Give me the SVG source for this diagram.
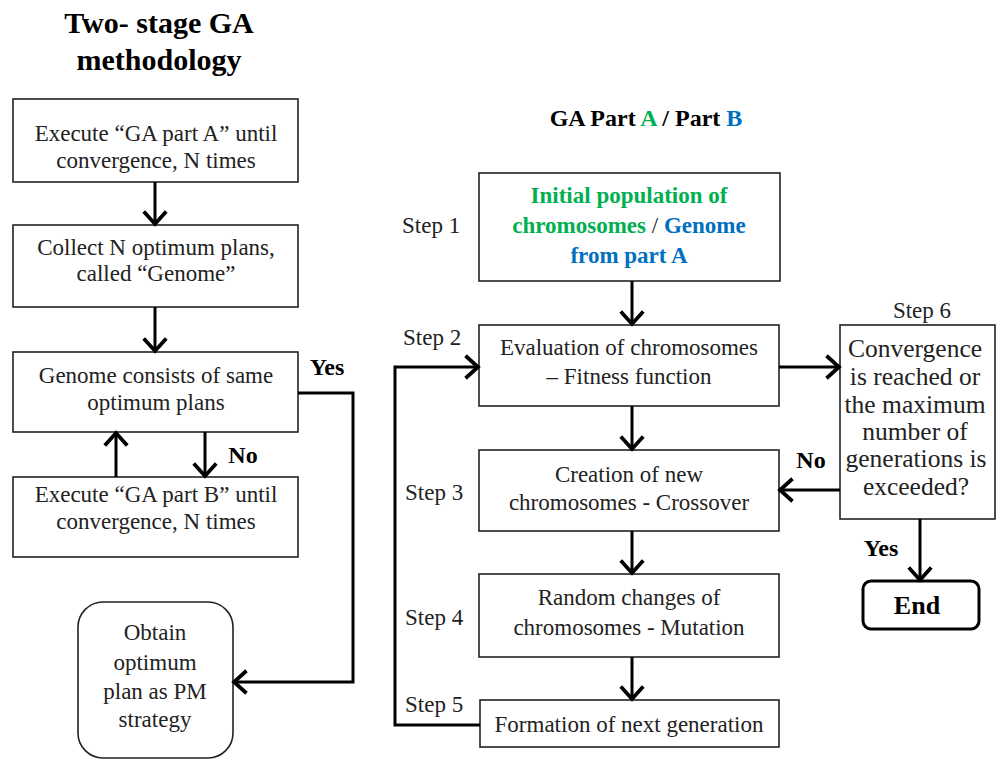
<svg xmlns="http://www.w3.org/2000/svg" width="996" height="760" viewBox="0 0 996 760">
<style>
text{font-family:'Liberation Serif','Tinos','Times New Roman','Noto Serif','DejaVu Serif',serif}
.bx{fill:#fff;stroke:#222;stroke-width:1.6}
.t{font-size:23px;fill:#222;text-anchor:middle}
.b{font-weight:bold;fill:#000}
.s{font-size:23px;fill:#222}
.q{font-size:25.5px}
.yn{font-size:24px}
.c{fill:none;stroke:#000;stroke-width:3;stroke-linejoin:miter}
.g{fill:#00b050}
.bl{fill:#0070c0}
</style>
<defs>
<marker id="ah" markerUnits="userSpaceOnUse" markerWidth="30" markerHeight="30" viewBox="-14 -12 16 24" refX="0" refY="0" orient="auto" overflow="visible">
<path d="M-10,-9 L0,0 L-10,9" fill="none" stroke="#000" stroke-width="3"/>
</marker>
</defs>
<rect width="996" height="760" fill="#fff"/>
<g id="title">
<text class="t b" x="159" y="33" style="font-size:30px">Two- stage GA</text>
<text class="t b" x="159" y="70" style="font-size:30px">methodology</text>
</g>
<g id="left1"><rect class="bx" x="13" y="99" width="285" height="83"/>
<text class="t" x="156" y="141">Execute “GA part A” until</text>
<text class="t" x="156" y="168">convergence, N times</text></g>
<g id="left2"><rect class="bx" x="13" y="225" width="285" height="82"/>
<text class="t" x="156" y="255">Collect N optimum plans,</text>
<text class="t" x="156" y="281">called “Genome”</text></g>
<g id="left3"><rect class="bx" x="13" y="352" width="285" height="80"/>
<text class="t" x="156" y="383">Genome consists of same</text>
<text class="t" x="156" y="410">optimum plans</text></g>
<g id="left4"><rect class="bx" x="13" y="477" width="285" height="80"/>
<text class="t" x="156" y="502">Execute “GA part B” until</text>
<text class="t" x="156" y="529">convergence, N times</text></g>
<g id="obtain"><rect class="bx" x="78" y="602" width="155" height="156" rx="25"/>
<text class="t" x="155" y="640">Obtain</text>
<text class="t" x="155" y="670">optimum</text>
<text class="t" x="155" y="699">plan as PM</text>
<text class="t" x="155" y="727">strategy</text></g>
<g id="gatitle"><text class="t b" x="646" y="126" style="font-size:24px">GA Part <tspan class="g">A</tspan> / Part <tspan class="bl">B</tspan></text></g>
<g id="step1"><rect class="bx" x="479" y="173" width="301" height="108"/>
<text class="s" x="402" y="233">Step 1</text>
<text class="t b g" x="629" y="203">Initial population of</text>
<text class="t" x="629" y="233"><tspan class="b g">chromosomes</tspan> / <tspan class="b bl">Genome</tspan></text>
<text class="t b bl" x="629" y="263">from part A</text></g>
<g id="step2"><rect class="bx" x="479" y="325" width="300" height="81"/>
<text class="s" x="403" y="345">Step 2</text>
<text class="t" x="629" y="355">Evaluation of chromosomes</text>
<text class="t" x="629" y="384">– Fitness function</text></g>
<g id="step3"><rect class="bx" x="479" y="450" width="300" height="81"/>
<text class="s" x="405" y="500">Step 3</text>
<text class="t" x="629" y="482">Creation of new</text>
<text class="t" x="629" y="510">chromosomes - Crossover</text></g>
<g id="step4"><rect class="bx" x="479" y="574" width="300" height="83"/>
<text class="s" x="405" y="625">Step 4</text>
<text class="t" x="629" y="605">Random changes of</text>
<text class="t" x="629" y="635">chromosomes - Mutation</text></g>
<g id="step5"><rect class="bx" x="480" y="700" width="299" height="47"/>
<text class="s" x="405" y="712">Step 5</text>
<text class="t" x="629" y="732">Formation of next generation</text></g>
<g id="step6"><rect class="bx" x="840" y="325" width="155" height="194"/>
<text class="t" x="922" y="318">Step 6</text>
<text class="t q" x="915" y="357">Convergence</text>
<text class="t q" x="915" y="385">is reached or</text>
<text class="t q" x="915" y="413">the maximum</text>
<text class="t q" x="915" y="440">number of</text>
<text class="t q" x="916" y="467">generations is</text>
<text class="t q" x="916" y="495">exceeded?</text></g>
<g id="end"><rect x="863" y="581" width="116" height="48" rx="8" fill="#fff" stroke="#000" stroke-width="3"/>
<text class="t b" x="917" y="614" style="font-size:26px">End</text></g>
<g id="connectors">
<line class="c" x1="155" y1="182" x2="155" y2="224" marker-end="url(#ah)"/>
<line class="c" x1="155" y1="307" x2="155" y2="351" marker-end="url(#ah)"/>
<line class="c" x1="205" y1="432" x2="205" y2="476" marker-end="url(#ah)"/>
<line class="c" x1="116" y1="477" x2="116" y2="433" marker-end="url(#ah)"/>
<polyline class="c" points="298,393 353,393 353,682 234,682" marker-end="url(#ah)"/>
<line class="c" x1="632" y1="281" x2="632" y2="324" marker-end="url(#ah)"/>
<line class="c" x1="632" y1="406" x2="632" y2="449" marker-end="url(#ah)"/>
<line class="c" x1="632" y1="531" x2="632" y2="573" marker-end="url(#ah)"/>
<line class="c" x1="632" y1="657" x2="632" y2="699" marker-end="url(#ah)"/>
<line class="c" x1="779" y1="367" x2="839" y2="367" marker-end="url(#ah)"/>
<line class="c" x1="840" y1="490" x2="780" y2="490" marker-end="url(#ah)"/>
<line class="c" x1="920" y1="519" x2="920" y2="580" marker-end="url(#ah)"/>
<polyline class="c" points="480,725 395,725 395,367 478,367" marker-end="url(#ah)"/>
<text class="t b yn" x="327" y="375">Yes</text>
<text class="t b yn" x="243" y="463">No</text>
<text class="t b yn" x="811" y="468">No</text>
<text class="t b yn" x="881" y="556">Yes</text>
</g>
</svg>
